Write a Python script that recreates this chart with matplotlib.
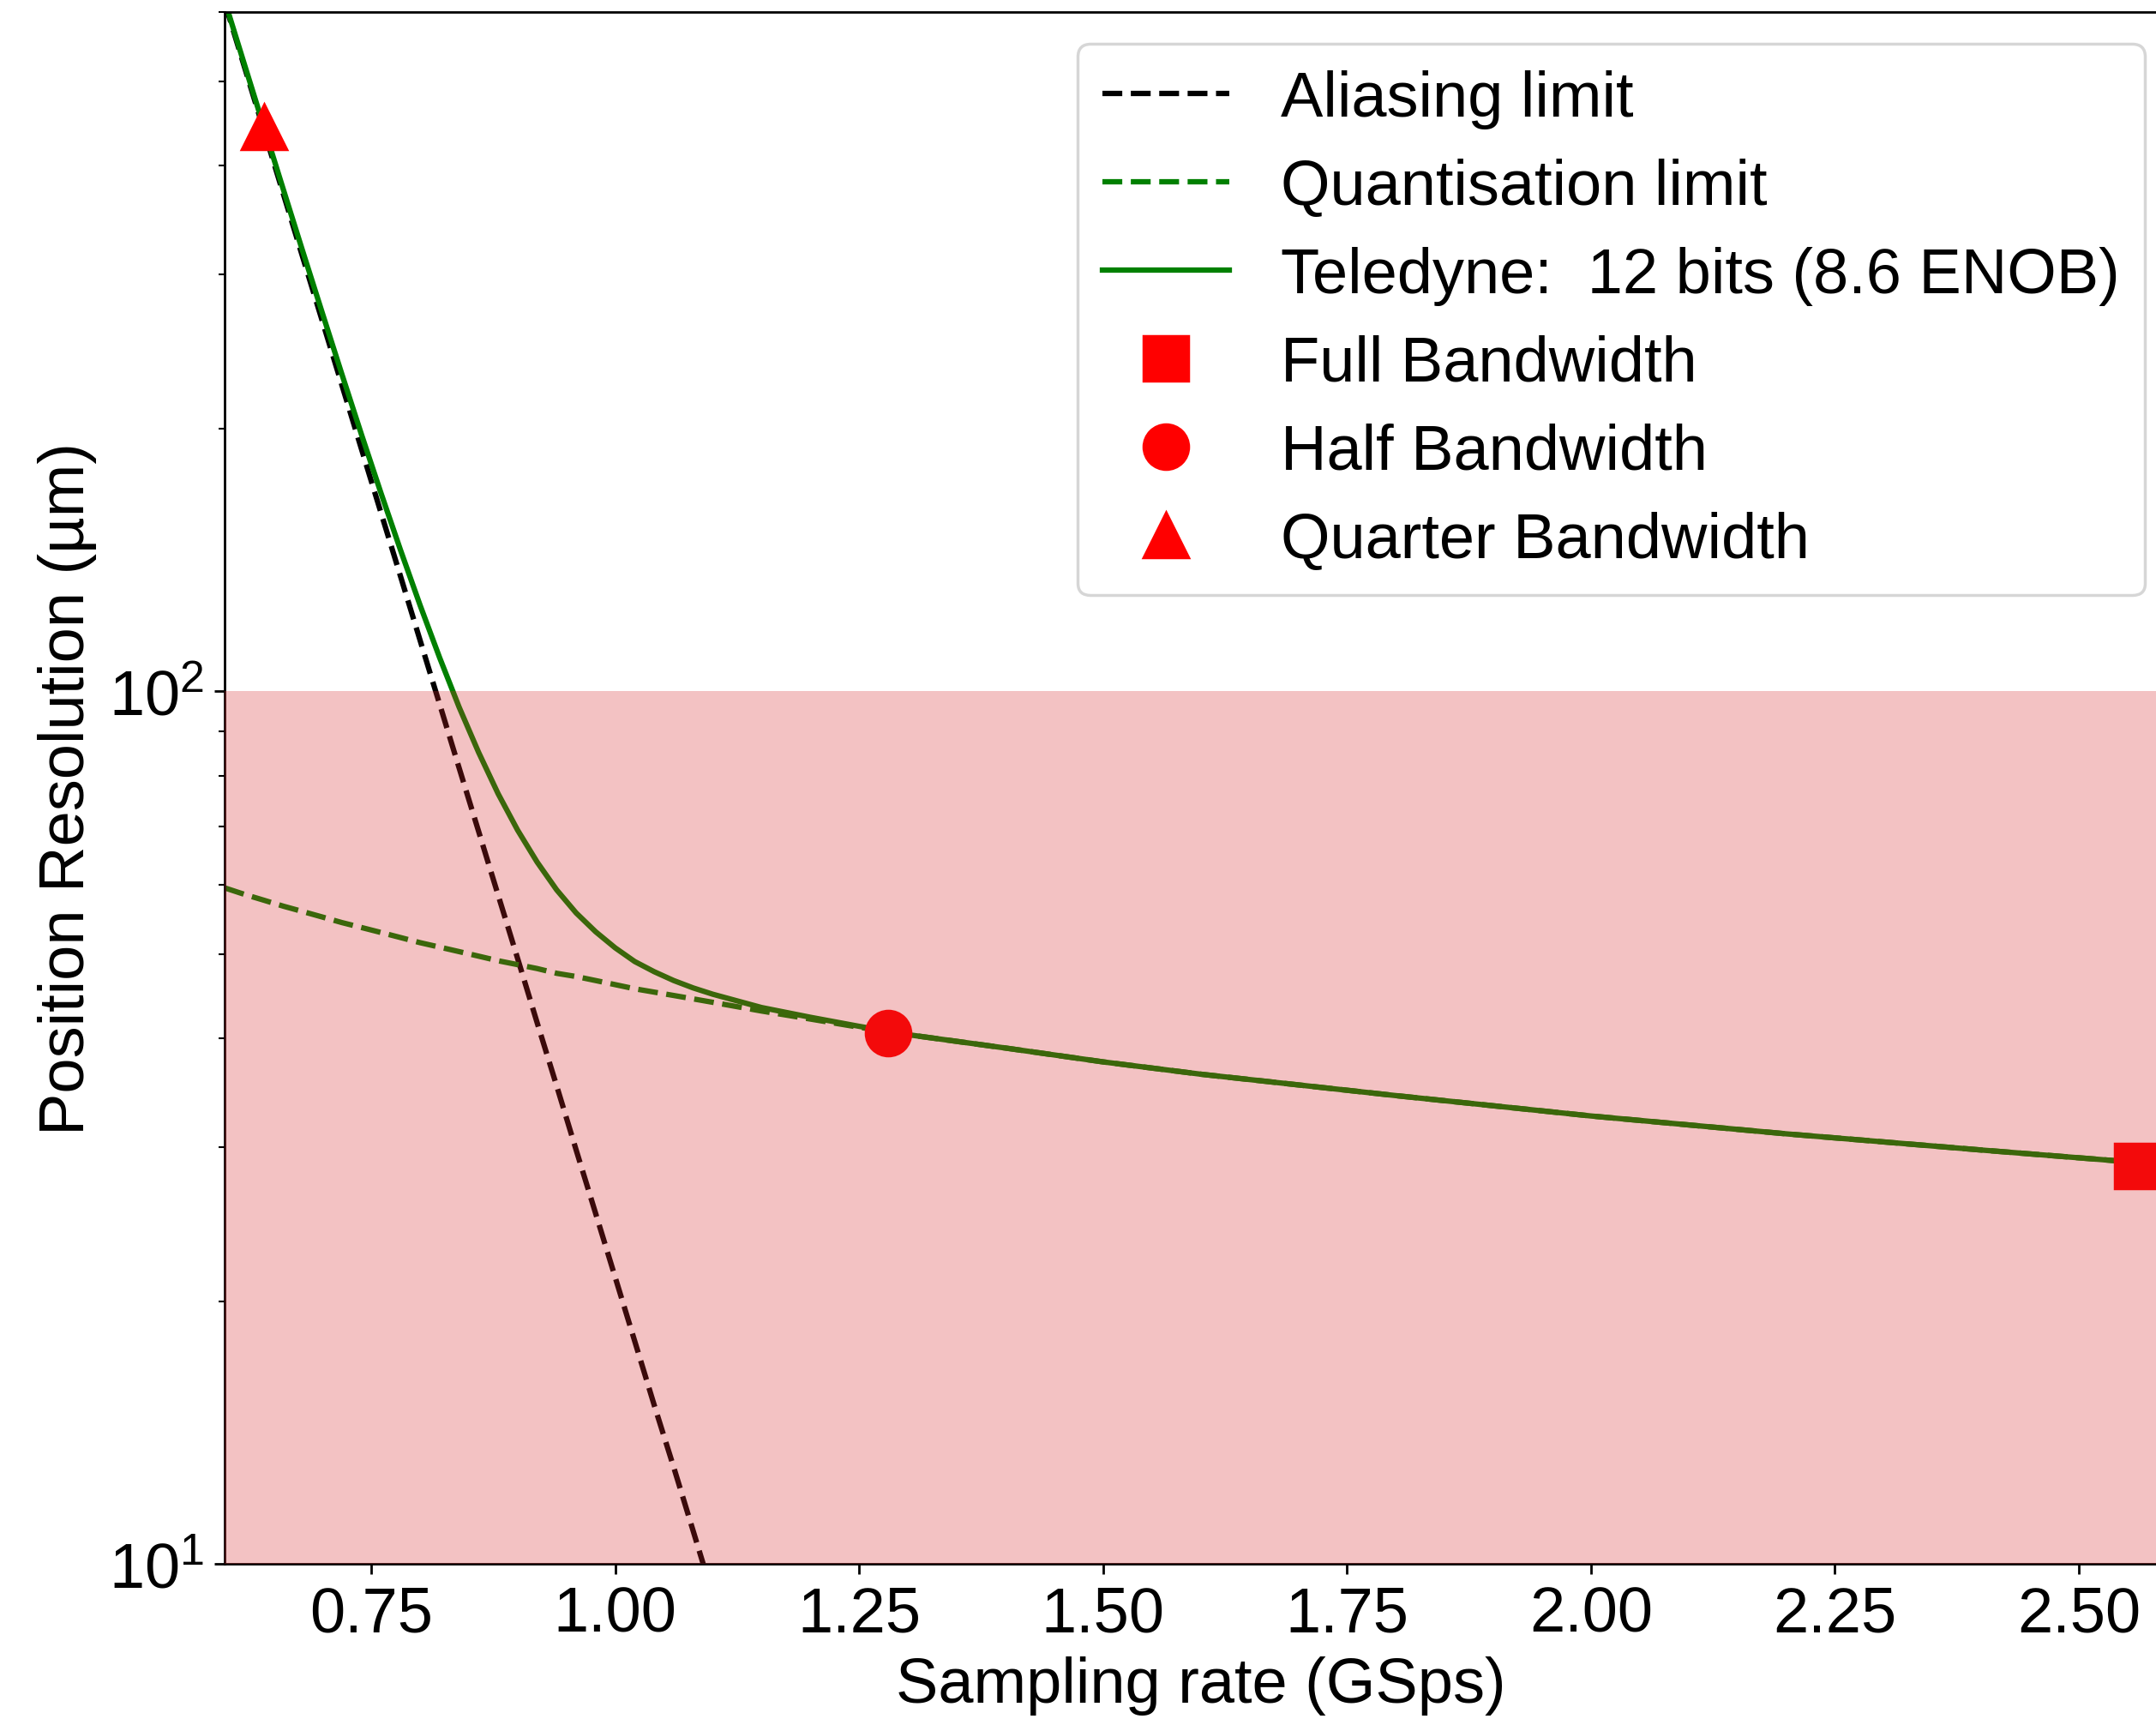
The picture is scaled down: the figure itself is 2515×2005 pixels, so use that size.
import matplotlib
matplotlib.use('Agg')
import matplotlib.pyplot as plt

plt.rcParams['font.family'] = ['Liberation Sans', 'DejaVu Sans']
plt.rcParams['font.size'] = 21.3
plt.rcParams['mathtext.fontset'] = 'custom'
plt.rcParams['mathtext.rm'] = 'Liberation Sans'
plt.rcParams['mathtext.it'] = 'Liberation Sans:italic'

# Sampling rate (GSps)
rate = [0.60, 0.62, 0.64, 0.66, 0.68, 0.70, 0.72, 0.74, 0.76, 0.78,
        0.80, 0.82, 0.84, 0.86, 0.88, 0.90, 0.92, 0.94, 0.96, 0.98,
        1.00, 1.02, 1.04, 1.06, 1.08, 1.10, 1.15, 1.20, 1.25, 1.30,
        1.40, 1.50, 1.60, 1.80, 2.00, 2.20, 2.40, 2.60]

# Position resolution (um) for each limit
aliasing = [614.5, 519.4, 439.1, 371.1, 313.7, 265.2, 224.1, 189.4, 160.1, 135.4,
            114.4, 96.7, 81.7, 69.1, 58.4, 49.4, 41.7, 35.3, 29.8, 25.2,
            21.3, 18.0, 15.2, 12.9, 10.9, 9.2, 6.04, 3.97, 2.61, 1.71,
            0.74, 0.32, 0.14, 0.026, 0.005, 0.001, 0.0002, 0.00004]
quantisation = [59.5, 58.5, 57.6, 56.7, 55.9, 55.1, 54.3, 53.6, 52.9, 52.2,
                51.5, 50.9, 50.3, 49.7, 49.1, 48.6, 48.1, 47.5, 47.1, 46.6,
                46.1, 45.6, 45.2, 44.8, 44.4, 44.0, 43.0, 42.1, 41.2, 40.4,
                39.0, 37.6, 36.4, 34.4, 32.6, 31.1, 29.8, 28.6]
teledyne = [617.4, 522.7, 442.9, 375.4, 318.6, 270.9, 230.6, 196.8, 168.6, 145.1,
            125.5, 109.3, 95.9, 85.1, 76.3, 69.3, 63.7, 59.2, 55.7, 53.0,
            50.8, 49.0, 47.7, 46.6, 45.7, 44.95, 43.4, 42.3, 41.3, 40.4,
            39.0, 37.6, 36.4, 34.4, 32.6, 31.1, 29.8, 28.6]

# bandwidth operating points
full_bw = (2.56, 28.6)
half_bw = (1.28, 40.6)
quarter_bw = (0.64, 443.0)

fig = plt.figure(figsize=(10.06, 8.024), dpi=250)
ax = fig.add_axes([0.1043, 0.0902, 0.9052, 0.9023])

ax.plot(rate, aliasing, 'k--', lw=1.8, label='Aliasing limit')
ax.plot(rate, quantisation, '--', color='green', lw=1.8, label='Quantisation limit')
ax.plot(rate, teledyne, '-', color='green', lw=1.8,
        label='Teledyne:  12 bits (8.6 ENOB)')
ax.plot([full_bw[0]], [full_bw[1]], 'rs', ms=15, label='Full Bandwidth')
ax.plot([half_bw[0]], [half_bw[1]], 'ro', ms=15, label='Half Bandwidth')
ax.plot([quarter_bw[0]], [quarter_bw[1]], 'r^', ms=15, label='Quarter Bandwidth')

# region below 100 um
ax.axhspan(10, 100, color='C3', alpha=0.28, lw=0, zorder=3)

ax.set_yscale('log')
ax.set_xlim(0.6, 2.6)
ax.set_ylim(10, 600)
ax.set_xticks([0.75, 1.00, 1.25, 1.50, 1.75, 2.00, 2.25, 2.50])
ax.set_xticklabels(['0.75', '1.00', '1.25', '1.50', '1.75', '2.00', '2.25', '2.50'])
ax.set_xlabel('Sampling rate (GSps)')
ax.set_ylabel('Position Resolution (\u00b5m)')
leg = ax.legend(loc='upper right', labelspacing=0.46)
leg.set_zorder(5)

fig.savefig('out.png', dpi=250)
